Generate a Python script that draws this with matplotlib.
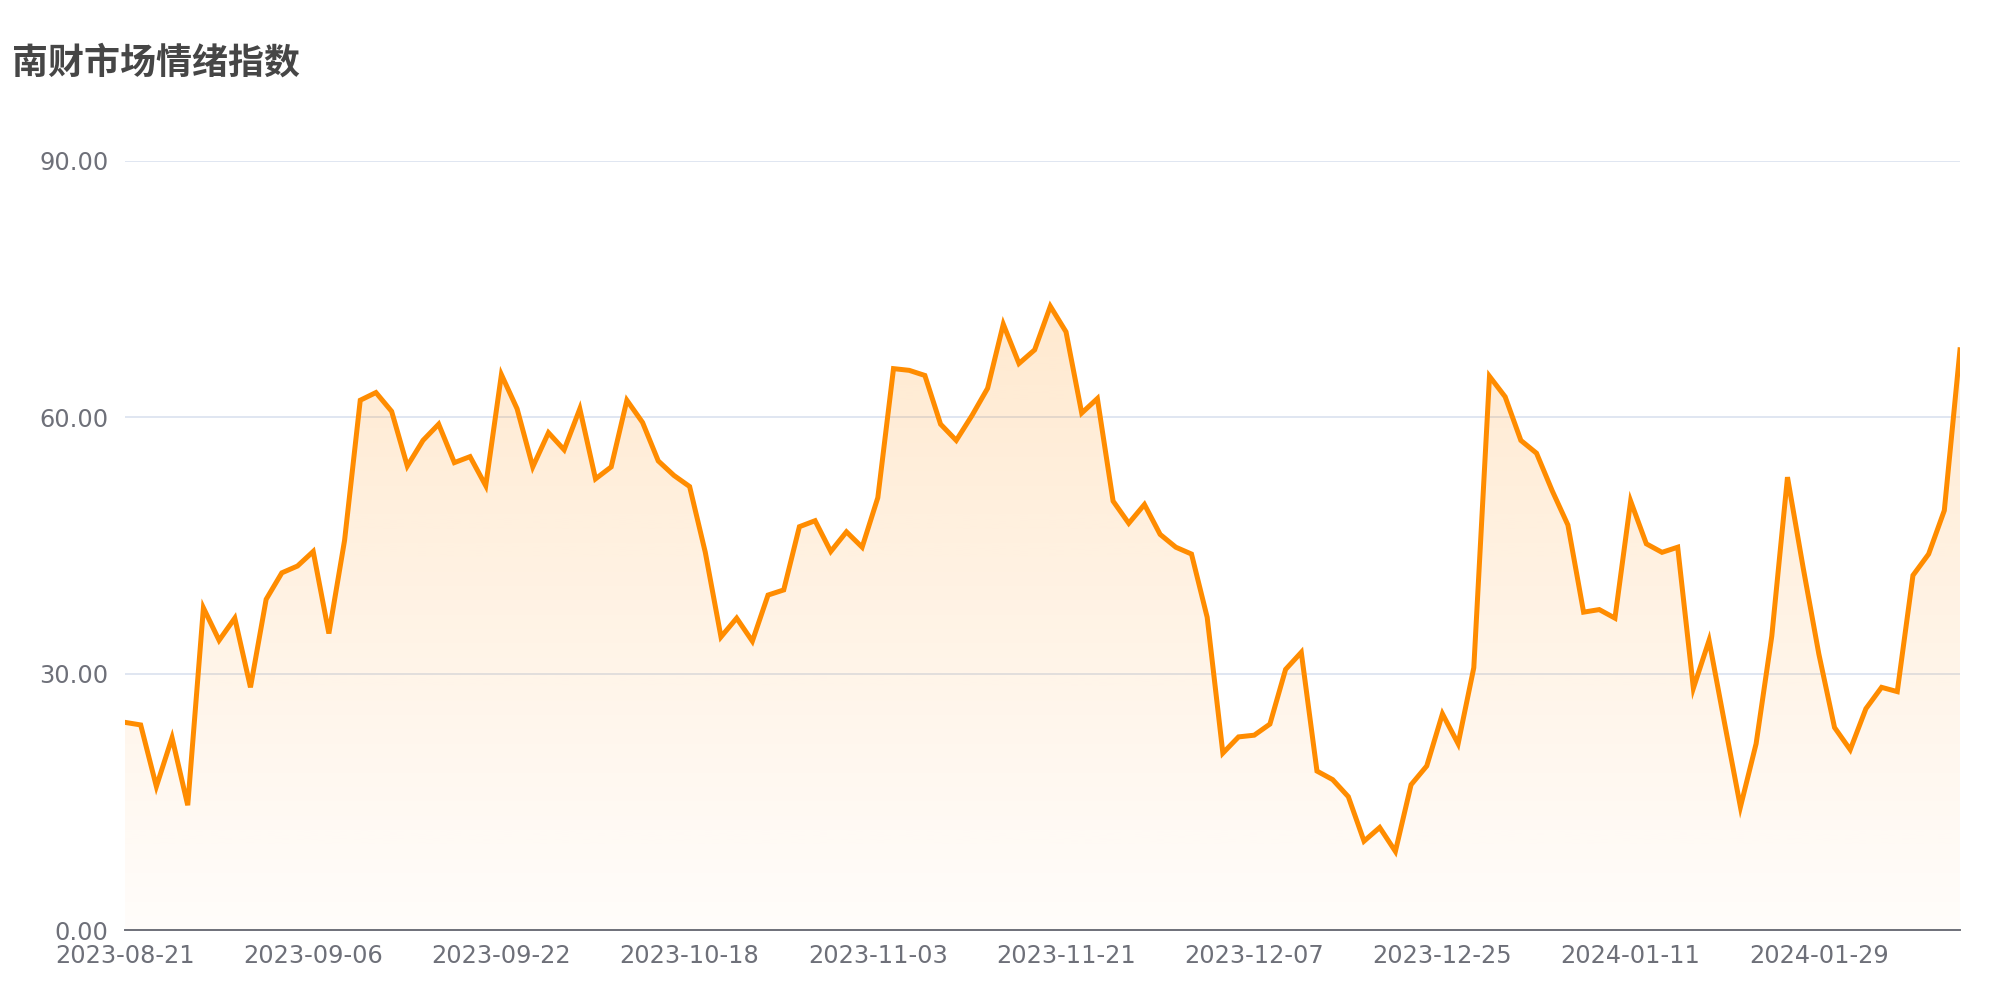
import numpy as np
import pandas as pd
import matplotlib
matplotlib.use("Agg")
import matplotlib.pyplot as plt

# ---- data ----
holidays = ["2023-09-29", "2023-10-02", "2023-10-03", "2023-10-04", "2023-10-05",
            "2023-10-06", "2024-01-01", "2024-02-09", "2024-02-12", "2024-02-13",
            "2024-02-14", "2024-02-15", "2024-02-16"]
dates = [d.strftime("%Y-%m-%d") for d in pd.bdate_range("2023-08-21", "2024-02-19")
         if d.strftime("%Y-%m-%d") not in holidays]

values = [24.3, 24.0, 16.8, 22.5, 14.6, 37.7, 33.9, 36.5, 28.4, 38.7,
          41.8, 42.6, 44.3, 34.7, 45.6, 62.0, 62.9, 60.7, 54.3, 57.3,
          59.2, 54.7, 55.4, 52.0, 65.0, 61.0, 54.2, 58.2, 56.2, 61.0,
          52.8, 54.2, 62.0, 59.4, 54.9, 53.2, 51.9, 44.2, 34.3, 36.5,
          33.8, 39.2, 39.8, 47.2, 47.9, 44.3, 46.6, 44.8, 50.6, 65.7,
          65.5, 64.9, 59.2, 57.3, 60.2, 63.4, 70.9, 66.3, 67.9, 73.0,
          70.0, 60.5, 62.2, 50.2, 47.6, 49.8, 46.3, 44.8, 44.0, 36.6,
          20.7, 22.6, 22.8, 24.1, 30.5, 32.5, 18.6, 17.6, 15.6, 10.4,
          12.0, 9.2, 17.0, 19.2, 25.3, 21.8, 30.7, 64.8, 62.4, 57.3,
          55.8, 51.4, 47.4, 37.2, 37.5, 36.5, 50.2, 45.2, 44.2, 44.8,
          28.3, 33.9, 24.1, 14.4, 21.8, 34.4, 53.0, 42.4, 32.3, 23.7,
          21.1, 25.9, 28.4, 27.9, 41.5, 44.0, 49.1, 67.9]

title = "南财市场情绪指数"
y_ticks = [0, 30, 60, 90]

n = min(len(dates), len(values))
dates = dates[:n]
values = values[:n]
x = np.arange(n)
y = np.array(values)

# ---- figure ----
fig = plt.figure(figsize=(20, 10), dpi=100)
ax = fig.add_axes([0.0625, 0.07, 0.9175, 0.769])

line_color = "#ff8c00"
ax.set_xlim(0, n - 1)
ax.set_ylim(0, 90)

# gradient fill clipped to area under line
ymax = y.max()
grad = np.linspace(0.02, 0.19, 256).reshape(-1, 1)
rgba = np.zeros((256, 1, 4))
rgba[..., 0] = 1.0
rgba[..., 1] = 140 / 255
rgba[..., 2] = 0.0
rgba[..., 3] = grad
im = ax.imshow(rgba, extent=[0, n - 1, 0, ymax], origin="lower", aspect="auto",
               zorder=1, interpolation="bilinear")
poly = ax.fill_between(x, y, 0, color="none", lw=0)
path = poly.get_paths()[0]
im.set_clip_path(path, transform=ax.transData)

ax.plot(x, y, color=line_color, lw=3.6, solid_joinstyle="miter", zorder=3)

# grid
ax.set_yticks(y_ticks)
ax.set_yticklabels([f"{v:.2f}" for v in y_ticks])
ax.yaxis.grid(True, color="#e0e6f1", lw=1.4)
ax.set_axisbelow(True)
for s in ["top", "right", "left"]:
    ax.spines[s].set_visible(False)
ax.spines["bottom"].set_color("#6e7079")
ax.spines["bottom"].set_linewidth(1.4)
ax.spines["bottom"].set_zorder(4)

tick_idx = list(range(0, n, 12))
ax.set_xticks(tick_idx)
ax.set_xticklabels([dates[i] for i in tick_idx])
ax.tick_params(axis="both", length=0, labelsize=17.3, labelcolor="#6e7079")
ax.tick_params(axis="y", pad=12)
ax.tick_params(axis="x", pad=10)
for lab in ax.get_xticklabels() + ax.get_yticklabels():
    lab.set_family("DejaVu Sans")

fig.text(0.006, 0.937, title, fontsize=25.9, fontweight="bold", color="#464646",
         family=["Noto Sans CJK SC", "DejaVu Sans"], va="center", ha="left")

fig.savefig("out.png", dpi=100, facecolor="white")
